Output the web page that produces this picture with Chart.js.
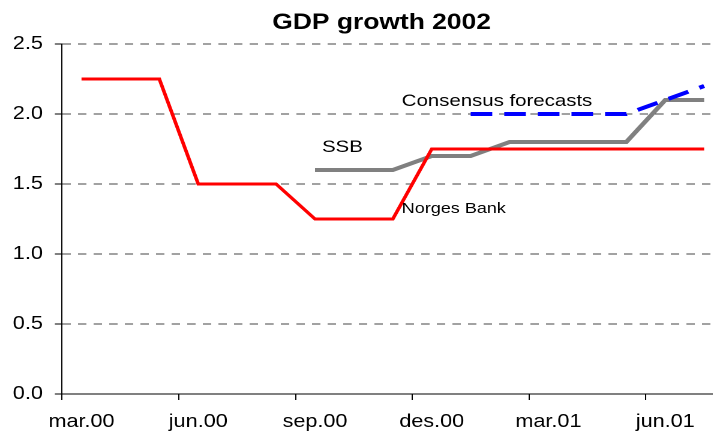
<!DOCTYPE html>
<html>
<head>
<meta charset="utf-8">
<script src="https://cdn.jsdelivr.net/npm/chart.js@4.4.1/dist/chart.umd.min.js"></script>
<style>
  body { margin: 0; overflow: hidden; background: #fff; }
  /* the original picture is stretched sideways, so the whole chart is too */
  #wrap { width: 604px; height: 441px; transform: scaleX(1.2); transform-origin: 0 0; }
</style>
</head>
<body>
<div id="wrap"><canvas id="myChart" width="604" height="441"></canvas></div>
<script>
    const chartTitle = 'GDP growth 2002';
    const months = ['mar.00','apr.00','mai.00','jun.00','jul.00','aug.00','sep.00','okt.00','nov.00',
                    'des.00','jan.01','feb.01','mar.01','apr.01','mai.01','jun.01','jul.01'];
    const norgesBank = [2.25,2.25,2.25,1.5,1.5,1.5,1.25,1.25,1.25,1.75,1.75,1.75,1.75,1.75,1.75,1.75,1.75];
    const ssb = [null,null,null,null,null,null,1.6,1.6,1.6,1.7,1.7,1.8,1.8,1.8,1.8,2.1,2.1];
    const consensus = [null,null,null,null,null,null,null,null,null,null,2.0,2.0,2.0,2.0,2.0,2.1,2.2];
    const yTicks = [0, 0.5, 1.0, 1.5, 2.0, 2.5];

    // text labels placed inside the plot (category index, value)
    const notes = [
      {text: 'Consensus forecasts', k: 8.23, v: 2.057, size: 17},
      {text: 'SSB', k: 6.18, v: 1.73, size: 17},
      {text: 'Norges Bank', k: 8.23, v: 1.293, size: 15}
    ];

    const fontName = '"Liberation Sans", Arial, sans-serif';

    const textPlugin = {
      id: 'texts',
      afterDraw(chart) {
        const ctx = chart.ctx;
        const x = chart.scales.x, y = chart.scales.y;
        ctx.save();
        ctx.fillStyle = '#000';
        ctx.textBaseline = 'alphabetic';
        ctx.font = 'bold 22px ' + fontName;
        ctx.textAlign = 'center';
        ctx.fillText(chartTitle, 318, 29);
        ctx.textAlign = 'left';
        notes.forEach(n => {
          ctx.font = n.size + 'px ' + fontName;
          ctx.fillText(n.text, x.getPixelForValue(n.k), y.getPixelForValue(n.v));
        });
        ctx.restore();
      }
    };

    const ctx = document.getElementById('myChart').getContext('2d');
    const myChart = new Chart(ctx, {
      type: 'line',
      data: {
        labels: months,
        datasets: [{
            label: 'Norges Bank',
            data: norgesBank,
            borderColor: '#ff0000',
            borderWidth: 3
        }, {
            label: 'Consensus forecasts',
            data: consensus,
            borderColor: '#0000ff',
            borderWidth: 4,
            borderDash: [18, 10]
        }, {
            label: 'SSB',
            data: ssb,
            borderColor: '#808080',
            borderWidth: 4
        }]
      },
      options: {
        responsive: false,
        animation: false,
        devicePixelRatio: 2,
        elements: { point: { radius: 0 }, line: { tension: 0, borderCapStyle: 'butt' } },
        layout: { padding: { top: 44, right: 1, left: 0, bottom: 0 } },
        plugins: { legend: { display: false }, tooltip: { enabled: false } },
        scales: {
          x: {
            offset: true,
            grid: {
              offset: true,
              drawOnChartArea: false,
              tickLength: 6,
              tickColor: c => (c.index % 3 === 0 ? '#000' : 'rgba(0,0,0,0)'),
              tickBorderDash: []
            },
            border: { color: '#000', width: 1 },
            ticks: {
              autoSkip: false,
              maxRotation: 0,
              padding: 11,
              color: '#000',
              font: { family: fontName, size: 18 },
              callback: (v, i) => (i % 3 === 0 ? months[i] : '')
            },
            afterFit: s => { s.height = 47; }
          },
          y: {
            min: 0,
            max: 2.5,
            afterBuildTicks: s => { s.ticks = yTicks.map(v => ({value: v})); },
            grid: {
              color: c => (c.tick && c.tick.value === 0 ? 'rgba(0,0,0,0)' : '#444'),
              tickColor: '#000',
              tickLength: 6,
              tickBorderDash: []
            },
            border: { color: '#000', width: 1, dash: [7, 6] },
            ticks: {
              padding: 10,
              color: '#000',
              font: { family: fontName, size: 18 },
              callback: v => Number(v).toFixed(1)
            },
            afterFit: s => { s.width = 51.7; }
          }
        }
      },
      plugins: [textPlugin]
    });
</script>
</body>
</html>
